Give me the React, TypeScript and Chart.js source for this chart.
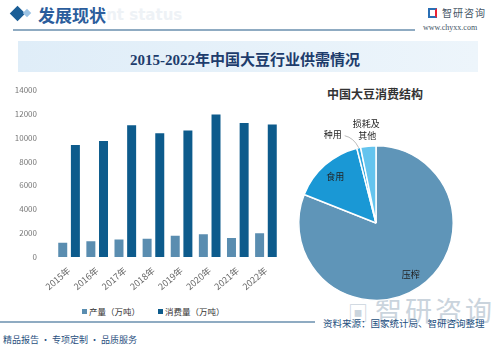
import React, { useEffect, useRef } from "react";
import { Chart, registerables } from "chart.js";

Chart.register(...registerables);

const years = ["2015年", "2016年", "2017年", "2018年", "2019年", "2020年", "2021年", "2022年"];
const production = [1190, 1320, 1460, 1520, 1770, 1900, 1600, 1980];
const consumption = [9370, 9720, 11040, 10360, 10600, 11930, 11230, 11100];
const seriesNames = ["产量（万吨）", "消费量（万吨）"];
const yMax = 14000;
const yStep = 2000;

const pieLabels = ["压榨", "食用", "种用", "损耗及其他"];
const pieValues = [81, 15, 0.8, 3.2];

const BAR_COLORS = ["#5a8db0", "#0d5b8c"];
const PIE_COLORS = ["#5f95b8", "#1a98d5", "#2aa3dc", "#64c4ee"];
const CJK = '"Noto Sans CJK SC", "Noto Sans", sans-serif';

const pieLabelPlugin = {
  id: "pieLabels",
  afterDatasetsDraw(chart: any) {
    const ctx = chart.ctx;
    const meta = chart.getDatasetMeta(0);
    ctx.save();
    ctx.fillStyle = "#222";
    ctx.font = `9px ${CJK}`;
    ctx.textAlign = "center";
    ctx.textBaseline = "middle";
    meta.data.forEach((arc: any, i: number) => {
      const { x, y, startAngle, endAngle, outerRadius } = arc.getProps(
        ["x", "y", "startAngle", "endAngle", "outerRadius"], true
      );
      const mid = (startAngle + endAngle) / 2;
      if (i === 0 || i === 1) {
        const r = outerRadius * 0.8;
        ctx.fillText(pieLabels[i], x + Math.cos(mid) * r, y + Math.sin(mid) * r);
      } else if (i === 2) {
        const ex = x + Math.cos(mid) * outerRadius;
        const ey = y + Math.sin(mid) * outerRadius;
        ctx.strokeStyle = "#aaa";
        ctx.lineWidth = 0.8;
        ctx.beginPath();
        ctx.moveTo(ex, ey);
        ctx.quadraticCurveTo(ex - 5, ey - 10, ex - 14, ey - 12);
        ctx.stroke();
        ctx.fillText(pieLabels[i], ex - 26, ey - 13);
      } else {
        const ex = x + Math.cos(mid) * outerRadius;
        const ey = y + Math.sin(mid) * outerRadius;
        const t = pieLabels[i];
        ctx.fillText(t.slice(0, 3), ex - 2, ey - 23);
        ctx.fillText(t.slice(3), ex - 1, ey - 11);
      }
    });
    ctx.restore();
  },
};

export default function App() {
  const barRef = useRef<HTMLCanvasElement>(null);
  const pieRef = useRef<HTMLCanvasElement>(null);

  useEffect(() => {
    document.body.style.margin = "0";
    const bar = new Chart(barRef.current!, {
      type: "bar",
      data: {
        labels: years,
        datasets: [
          { label: seriesNames[0], data: production, backgroundColor: BAR_COLORS[0], categoryPercentage: 0.9, barPercentage: 0.71 },
          { label: seriesNames[1], data: consumption, backgroundColor: BAR_COLORS[1], categoryPercentage: 0.9, barPercentage: 0.71 },
        ],
      },
      options: {
        animation: false,
        responsive: false,
        maintainAspectRatio: false,
        layout: { padding: { top: 12, right: 10, left: 0, bottom: 0 } },
        plugins: { legend: { display: false }, tooltip: { enabled: false } },
        scales: {
          x: {
            grid: { display: false },
            border: { display: false },
            ticks: { color: "#666", font: { size: 9, family: CJK }, maxRotation: 40, minRotation: 40, padding: 0 },
            afterFit: (s: any) => { s.height = 48; },
          },
          y: {
            min: 0,
            max: yMax,
            grid: { display: false },
            border: { display: false },
            ticks: {
              stepSize: yStep,
              color: "#777",
              font: { size: 8, family: CJK },
              padding: 10,
              callback: (v: any) => String(v),
            },
            afterFit: (s: any) => { s.width = 55; },
          },
        },
      },
    });
    const pie = new Chart(pieRef.current!, {
      type: "pie",
      data: {
        labels: pieLabels,
        datasets: [{ data: pieValues, backgroundColor: PIE_COLORS, borderColor: "#fff", borderWidth: 1.5 }],
      },
      options: {
        animation: false,
        responsive: false,
        maintainAspectRatio: false,
        layout: { padding: { left: 8, right: 8, top: 30, bottom: 4 } },
        plugins: { legend: { display: false }, tooltip: { enabled: false } },
      },
      plugins: [pieLabelPlugin],
    });
    return () => { bar.destroy(); pie.destroy(); };
  }, []);

  const abs = (s: React.CSSProperties): React.CSSProperties => ({ position: "absolute", ...s });

  return (
    <div style={{ position: "relative", width: 500, height: 350, background: "#fff", overflow: "hidden", fontFamily: CJK }}>
      {/* header */}
      <div style={abs({ left: 12, top: 8, width: 11, height: 11, background: "#1b5e96", transform: "rotate(45deg)" })} />
      <div style={abs({ left: 24, top: 10, width: 6, height: 6, background: "#9cc3e4", transform: "rotate(45deg)" })} />
      <div style={abs({ left: 96, top: 6, fontSize: 15, fontWeight: 700, color: "#eef2f6", fontFamily: "DejaVu Sans, sans-serif" })}>ent status</div>
      <div style={abs({ left: 38, top: 2, fontSize: 17, fontWeight: 700, color: "#2b5d9c", fontFamily: '"Liberation Serif", "Noto Sans CJK SC", serif' })}>发展现状</div>
      <div style={abs({ left: 13, top: 29, width: 402, height: 1.5, background: "#8fabc2" })} />
      <div style={abs({ left: 428, top: 8, width: 9, height: 10, border: "2px solid #2a6fb5", boxSizing: "border-box", borderRightColor: "#e23", borderBottomColor: "#2a6fb5" })} />
      <div style={abs({ left: 442, top: 5, fontSize: 10, color: "#456", letterSpacing: 1 })}>智研咨询</div>
      <div style={abs({ left: 423, top: 23, fontSize: 8, color: "#456", fontFamily: '"Liberation Serif", serif' })}>www.chyxx.com</div>

      {/* title band */}
      <div style={abs({ left: 18, top: 41, width: 460, height: 31, background: "linear-gradient(90deg, #dfedf8, #edf5fb)" })} />
      <div style={abs({ left: 0, top: 48, width: 490, textAlign: "center", fontSize: 15, fontWeight: 700, color: "#1d3c6c", fontFamily: '"Liberation Serif", "Noto Sans CJK SC", serif' })}>
        2015-2022年中国大豆行业供需情况
      </div>

      {/* bar chart */}
      <canvas ref={barRef} width={290} height={230} style={abs({ left: 0, top: 75, width: 290, height: 230 })} />
      <div style={abs({ left: 82, top: 305, fontSize: 8.5, color: "#333", display: "flex", alignItems: "center", whiteSpace: "nowrap" })}>
        <span style={{ width: 5, height: 5, background: BAR_COLORS[0], display: "inline-block", marginRight: 2 }} />
        {seriesNames[0]}
        <span style={{ width: 5, height: 5, background: BAR_COLORS[1], display: "inline-block", marginLeft: 18, marginRight: 2 }} />
        {seriesNames[1]}
      </div>

      {/* pie */}
      <div style={abs({ left: 327, top: 85, fontSize: 12, fontWeight: 700, color: "#333" })}>中国大豆消费结构</div>
      <div style={abs({ left: 348, top: 290, fontSize: 27, color: "#cad4dd", letterSpacing: 3, whiteSpace: "nowrap" })}>
        <span style={{ fontSize: 20, marginRight: 4 }}>▣</span>智研咨询
      </div>
      <canvas ref={pieRef} width={172} height={190} style={abs({ left: 290, top: 115, width: 172, height: 190 })} />

      {/* footer */}
      <div style={abs({ left: 0, top: 321, width: 315, height: 1.5, background: "#8fabc2" })} />
      <div style={abs({ left: 323, top: 316, fontSize: 9.5, color: "#1d4f80", whiteSpace: "nowrap" })}>资料来源：国家统计局、智研咨询整理</div>
      <div style={abs({ left: 3, top: 333, fontSize: 9, color: "#2a5080", whiteSpace: "nowrap" })}>精品报告 · 专项定制 · 品质服务</div>
    </div>
  );
}
